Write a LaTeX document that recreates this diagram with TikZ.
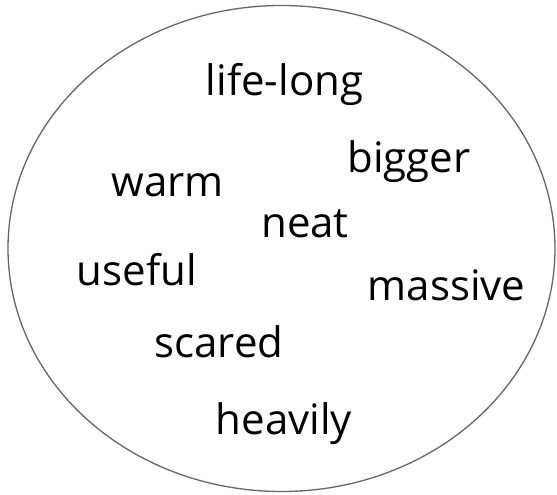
\documentclass[tikz,border=0pt]{standalone}
\usepackage{fontspec}
\setmainfont{Open Sans}
\usepackage{xcolor}
\usepackage{tikz}
\usetikzlibrary{positioning}

\definecolor{rimgray}{HTML}{666666}

\begin{document}
\begin{tikzpicture}[x=1pt, y=1pt, word/.style={inner sep=0pt, anchor=base, font=\fontsize{42}{50}\selectfont}]
\useasboundingbox (0,0) rectangle (557,495);
\draw[rimgray, line width=1.3pt] (281.5,246.5) ellipse [x radius=273.5, y radius=243];
\node[word] (lifelong) at (284.5,399) {life-long};
\node[word] (bigger) at (409,322) {bigger};
\node[word] (warm) at (167.5,298) {warm};
\node[word] (neat) at (305,257) {neat};
\node[word] (useful) at (137,209) {useful};
\node[word] (massive) at (446.5,194) {massive};
\node[word] (scared) at (219,137) {scared};
\node[word] (heavily) at (284,60) {heavily};
\end{tikzpicture}
\end{document}
